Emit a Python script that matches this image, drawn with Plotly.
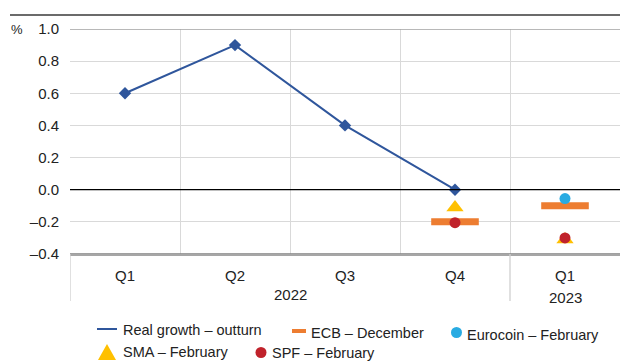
import plotly.graph_objects as go

quarters = ["Q1", "Q2", "Q3", "Q4", "Q1"]
years = ["2022", "2023"]
year_spans = [(0, 3), (4, 4)]
real_growth = [0.6, 0.9, 0.4, 0.0, None]
ecb_dec = [None, None, None, -0.2, -0.1]
eurocoin_feb = [None, None, None, None, -0.055]
sma_feb = [None, None, None, -0.11, -0.31]
spf_feb = [None, None, None, -0.205, -0.30]
yticks = [-0.4, -0.2, 0.0, 0.2, 0.4, 0.6, 0.8, 1.0]

BLUE = "#2f569c"
ORANGE = "#ed7d31"
LBLUE = "#29abe2"
YELLOW = "#ffc000"
RED = "#c0222b"
FONT = "Liberation Sans, Arial, sans-serif"

xs = list(range(len(quarters)))
fig = go.Figure()
fig.add_trace(go.Scatter(x=xs, y=real_growth, mode="lines+markers",
                         line=dict(color=BLUE, width=2),
                         marker=dict(symbol="diamond", size=9.5, color=BLUE),
                         name="Real growth – outturn", showlegend=False))
fig.add_trace(go.Scatter(x=xs, y=ecb_dec, mode="markers",
                         marker=dict(symbol="line-ew", size=34,
                                     line=dict(color=ORANGE, width=7)),
                         name="ECB – December", showlegend=False))
fig.add_trace(go.Scatter(x=xs, y=sma_feb, mode="markers",
                         marker=dict(symbol="triangle-up", size=15, color=YELLOW),
                         name="SMA – February", showlegend=False))
fig.add_trace(go.Scatter(x=xs, y=spf_feb, mode="markers",
                         marker=dict(symbol="circle", size=11, color=RED),
                         name="SPF – February", showlegend=False))
fig.add_trace(go.Scatter(x=xs, y=eurocoin_feb, mode="markers",
                         marker=dict(symbol="circle", size=11, color=LBLUE),
                         name="Eurocoin – February", showlegend=False))

W, H = 620, 363
L, R, T, B = 70, 0, 29, 109
ph = H - T - B

def py(pix):
    return (H - B - pix) / ph

def px(pix):
    return (pix - L) / (W - L - R)

shapes = []
annotations = []
# top rule
shapes.append(dict(type="line", xref="paper", yref="paper", x0=px(10), x1=1,
                   y0=py(15), y1=py(15), line=dict(color="#3a3a3a", width=1.5)))
# top border of plot at 1.0
shapes.append(dict(type="line", xref="paper", yref="y", x0=0, x1=1,
                   y0=1.0, y1=1.0, line=dict(color="#a0a0a0", width=1.5)))
# bottom axis line
shapes.append(dict(type="line", xref="paper", yref="y", x0=0, x1=1,
                   y0=-0.4, y1=-0.4, line=dict(color="#808080", width=1.5)))
# zero line
shapes.append(dict(type="line", xref="paper", yref="y", x0=0, x1=1,
                   y0=0, y1=0, line=dict(color="#000000", width=1.2)))
# separators below axis
for xv in [-0.5, 3.5]:
    shapes.append(dict(type="line", xref="x", yref="paper", x0=xv, x1=xv,
                       y0=py(301), y1=0, line=dict(color="#d0d0d0", width=1.3)))

# category labels
for i, q in enumerate(quarters):
    annotations.append(dict(x=i, y=py(275), xref="x", yref="paper", text=q,
                            showarrow=False, font=dict(size=15, color="#222"),
                            yanchor="middle"))
yl = [294, 297]
for (a, b), yr, yy in zip(year_spans, years, yl):
    annotations.append(dict(x=(a + b) / 2, y=py(yy), xref="x", yref="paper", text=yr,
                            showarrow=False, font=dict(size=15, color="#222"),
                            yanchor="middle"))
annotations.append(dict(x=px(9), y=py(29), xref="paper", yref="paper", text="%",
                        showarrow=False, xanchor="left", yanchor="middle",
                        font=dict(size=13, color="#222")))

# manual legend
def leg_text(x, y, t):
    annotations.append(dict(x=px(x), y=py(y), xref="paper", yref="paper", text=t,
                            showarrow=False, xanchor="left", yanchor="middle",
                            font=dict(size=14.5, color="#222")))

shapes.append(dict(type="line", xref="paper", yref="paper", x0=px(97), x1=px(117),
                   y0=py(329), y1=py(329), line=dict(color=BLUE, width=2)))
leg_text(121, 330, "Real growth – outturn")
shapes.append(dict(type="line", xref="paper", yref="paper", x0=px(292), x1=px(306),
                   y0=py(331), y1=py(331), line=dict(color=ORANGE, width=4)))
leg_text(309, 333, "ECB – December")
shapes.append(dict(type="circle", xref="paper", yref="paper", x0=px(451), x1=px(462),
                   y0=py(338), y1=py(327), fillcolor=LBLUE, line=dict(width=0)))
leg_text(465, 335, "Eurocoin – February")
shapes.append(dict(type="path", xref="paper", yref="paper",
                   path=f"M {px(98)} {py(360)} L {px(116)} {py(360)} L {px(107)} {py(344)} Z",
                   fillcolor=YELLOW, line=dict(width=0)))
leg_text(121, 352, "SMA – February")
shapes.append(dict(type="circle", xref="paper", yref="paper", x0=px(255.5), x1=px(266.5),
                   y0=py(358), y1=py(347), fillcolor=RED, line=dict(width=0)))
leg_text(270, 353, "SPF – February")

fig.update_layout(
    width=W, height=H, margin=dict(l=L, r=R, t=T, b=B),
    paper_bgcolor="white", plot_bgcolor="white",
    font=dict(family=FONT, size=15, color="#222"),
    xaxis=dict(range=[-0.5, 4.5], tickvals=[0.5, 1.5, 2.5, 3.5], showticklabels=False,
               showgrid=True, gridcolor="#d9d9d9", gridwidth=1.3, zeroline=False,
               showline=True, linecolor="#a6a6a6", linewidth=1.5, ticks="", fixedrange=True),
    yaxis=dict(range=[-0.4, 1.0], tickvals=yticks,
               ticktext=[f"{v:.1f}".replace("-", "–") for v in yticks],
               showgrid=True, gridcolor="#d9d9d9", gridwidth=1.3, zeroline=False,
               showline=False, ticks="", ticklabelstandoff=10, fixedrange=True),
    shapes=shapes, annotations=annotations, showlegend=False,
)
fig.write_html("out.html")
